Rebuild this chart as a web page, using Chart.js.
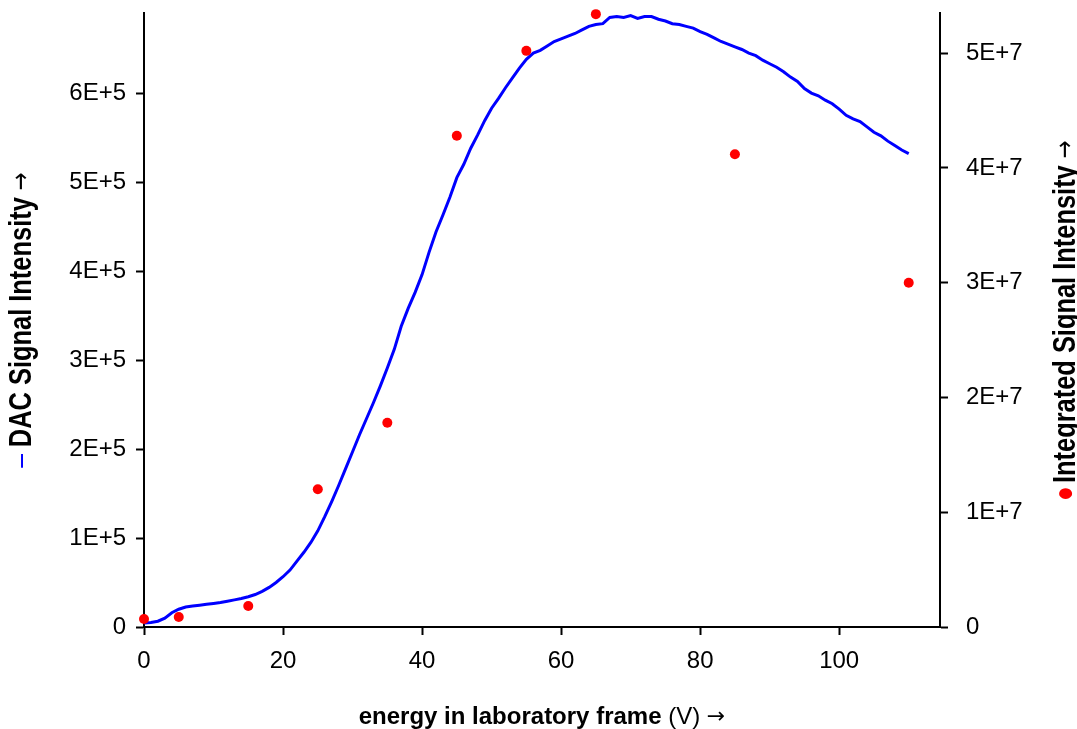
<!DOCTYPE html>
<html>
<head>
<meta charset="utf-8">
<script src="https://cdn.jsdelivr.net/npm/chart.js@4/dist/chart.umd.min.js"></script>
<style>
  body { margin: 0; background: #fff; }
</style>
</head>
<body>
<canvas id="canvas" width="1077" height="729"></canvas>
<script>
// DAC signal, every 1 V (values in counts)
let energy = [];
for (let v = 0; v <= 110; v++) energy.push(v);
let dacSignal = [
  4500, 5000, 6500, 10000, 16000, 20000, 22500, 23500, 24500, 25500,
  26500, 27500, 29000, 30500, 32000, 34000, 36500, 40000, 44500, 50000,
  56500, 64000, 74000, 84000, 95000, 108000, 124000, 141000, 159000, 178000,
  197000, 216000, 234000, 252000, 271000, 291000, 312000, 338000, 358000, 376000,
  396000, 421000, 444000, 463000, 483000, 505000, 520000, 538000, 553000, 569000,
  583000, 594000, 606000, 617000, 628000, 638000, 645000, 648000, 653000, 658000,
  661000, 664000, 667000, 671000, 675000, 677000, 678000, 685000, 686000, 685000,
  687000, 684000, 686000, 686000, 683000, 681000, 678000, 677000, 675000, 673000,
  669000, 666000, 662000, 658000, 655000, 652000, 649000, 645000, 642000, 637000,
  633000, 629000, 624000, 618000, 613000, 605000, 600000, 597000, 592000, 588000,
  582000, 575000, 571000, 568000, 562000, 556000, 552000, 546000, 541000, 536000,
  532000
];

// integrated signal, measured at a few energies
let pointEnergy = [0, 5, 15, 25, 35, 45, 55, 65, 85, 110];
let integrated = [7.0e5, 8.7e5, 1.83e6, 1.20e7, 1.78e7, 4.28e7, 5.02e7, 5.34e7, 4.12e7, 3.00e7];

// tick positions
let xTicks = [0, 20, 40, 60, 80, 100];
let leftTicks = [0, 1e5, 2e5, 3e5, 4e5, 5e5, 6e5];
let rightTicks = [0, 1e7, 2e7, 3e7, 4e7, 5e7];

let xTitle = ['energy in laboratory frame ', '(V) '];
let leftTitle = 'DAC Signal Intensity ';
let rightTitle = 'Integrated Signal Intensity ';
let arrow = '\u2192';

const FONT = '"Liberation Sans", Arial, Helvetica, sans-serif';
const ARROW_FONT = '"DejaVu Sans", sans-serif';

function expLabel(exp) {
  return function(v) {
    if (v === 0) return '0';
    if (exp === 0) return String(v);
    return Math.round(v / Math.pow(10, exp)) + 'E+' + exp;
  };
}

function useTicks(list) {
  return s => { s.ticks = list.map(v => ({ value: v })); };
}

// draws a run of differently styled pieces, centred on (cx, cy), optionally turned
function drawPieces(ctx, cx, cy, pieces, rotate, squeeze) {
  ctx.save();
  ctx.translate(cx, cy);
  if (rotate) ctx.rotate(-Math.PI / 2);
  ctx.scale(squeeze || 1, 1);
  ctx.textBaseline = 'middle';
  ctx.textAlign = 'left';
  let total = 0;
  pieces.forEach(p => { ctx.font = p.font; total += ctx.measureText(p.text).width; });
  let x = -total / 2;
  pieces.forEach(p => {
    ctx.font = p.font;
    ctx.fillStyle = p.color;
    ctx.fillText(p.text, x, p.dy || 0);
    x += ctx.measureText(p.text).width;
  });
  ctx.restore();
}

const axisTitles = {
  id: 'axisTitles',
  afterDraw(chart) {
    const ctx = chart.ctx;
    const a = chart.chartArea;
    const midY = (a.top + a.bottom) / 2;
    const midX = (a.left + a.right) / 2;
    drawPieces(ctx, 22, midY, [
      { text: '\u2013 ', font: '30px ' + FONT, color: 'rgb(0,0,255)' },
      { text: leftTitle, font: 'bold 31px ' + FONT, color: '#000' },
      { text: arrow, font: '26px ' + ARROW_FONT, color: '#000' }
    ], true, 0.82);
    drawPieces(ctx, 1066, midY, [
      { text: '\u25CF ', font: '17px ' + ARROW_FONT, color: 'rgb(255,0,0)' },
      { text: rightTitle, font: 'bold 31px ' + FONT, color: '#000' },
      { text: arrow, font: '26px ' + ARROW_FONT, color: '#000' }
    ], true, 0.82);
    drawPieces(ctx, midX, 717, [
      { text: xTitle[0], font: 'bold 24px ' + FONT, color: '#000' },
      { text: xTitle[1], font: '24px ' + FONT, color: '#000' },
      { text: arrow, font: '22px ' + ARROW_FONT, color: '#000' }
    ], false);
  }
};

let tickGrid = { display: true, drawOnChartArea: false, drawTicks: true, tickLength: 8, tickColor: '#000', tickWidth: 2 };
let axisBorder = { display: true, color: '#000', width: 2 };
let tickFont = { family: FONT, size: 24 };

function fixWidth(w) {
  return s => { s.width = w; s.paddingTop = 0; s.paddingBottom = 0; };
}

let options = {
  data: {
    datasets: [{
      type: 'line',
      label: 'DAC Signal Intensity',
      data: energy.map((v, i) => ({ x: v, y: dacSignal[i] })),
      borderColor: 'rgb(0,0,255)',
      borderWidth: 3,
      pointRadius: 0,
      tension: 0,
      yAxisID: 'y',
      order: 2
    }, {
      type: 'scatter',
      label: 'Integrated Signal Intensity',
      data: pointEnergy.map((v, i) => ({ x: v, y: integrated[i] })),
      backgroundColor: 'rgb(255,0,0)',
      borderWidth: 0,
      pointRadius: 5,
      yAxisID: 'y2',
      clip: false,
      order: 1
    }]
  },
  options: {
    responsive: false,
    animation: false,
    layout: { padding: { top: 13, left: 0, right: 0, bottom: 0 } },
    plugins: { legend: { display: false }, tooltip: { enabled: false } },
    scales: {
      x: {
        type: 'linear', min: 0, max: 114.5,
        ticks: { color: '#000', font: tickFont, padding: 12, maxRotation: 0, autoSkip: false, callback: expLabel(0) },
        afterBuildTicks: useTicks(xTicks),
        grid: tickGrid, border: axisBorder,
        afterFit: s => { s.height = 102; s.paddingLeft = 0; s.paddingRight = 0; }
      },
      y: {
        position: 'left', min: 0, max: 690000,
        ticks: { color: '#000', font: tickFont, padding: 10, autoSkip: false, callback: expLabel(5) },
        afterBuildTicks: useTicks(leftTicks),
        grid: tickGrid, border: axisBorder,
        afterFit: fixWidth(144)
      },
      y2: {
        position: 'right', min: 0, max: 5.35e7,
        ticks: { color: '#000', font: tickFont, padding: 18, autoSkip: false, callback: expLabel(7) },
        afterBuildTicks: useTicks(rightTicks),
        grid: tickGrid, border: axisBorder,
        afterFit: fixWidth(137)
      }
    }
  },
  plugins: [axisTitles]
};

let chart = new Chart(document.getElementById('canvas'), options);
</script>
</body>
</html>
